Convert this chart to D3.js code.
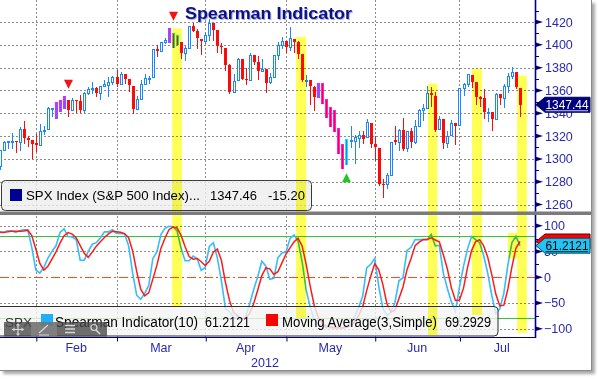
<!DOCTYPE html>
<html><head><meta charset="utf-8">
<script src="https://cdn.jsdelivr.net/npm/d3@7"></script>
<style>
html,body{margin:0;padding:0;background:#fff;}
svg{display:block;}
text{font-family:"Liberation Sans",Arial,sans-serif;}
</style></head><body>
<svg id="chart" width="599" height="380"></svg>
<script>
// ---------------- DATA ----------------
const dates = [
"2012-01-18","2012-01-19","2012-01-20","2012-01-23","2012-01-24","2012-01-25","2012-01-26","2012-01-27","2012-01-30","2012-01-31",
"2012-02-01","2012-02-02","2012-02-03","2012-02-06","2012-02-07","2012-02-08","2012-02-09","2012-02-10","2012-02-13","2012-02-14",
"2012-02-15","2012-02-16","2012-02-17","2012-02-21","2012-02-22","2012-02-23","2012-02-24","2012-02-27","2012-02-28","2012-02-29",
"2012-03-01","2012-03-02","2012-03-05","2012-03-06","2012-03-07","2012-03-08","2012-03-09","2012-03-12","2012-03-13","2012-03-14",
"2012-03-15","2012-03-16","2012-03-19","2012-03-20","2012-03-21","2012-03-22","2012-03-23","2012-03-26","2012-03-27","2012-03-28",
"2012-03-29","2012-03-30","2012-04-02","2012-04-03","2012-04-04","2012-04-05","2012-04-09","2012-04-10","2012-04-11","2012-04-12",
"2012-04-13","2012-04-16","2012-04-17","2012-04-18","2012-04-19","2012-04-20","2012-04-23","2012-04-24","2012-04-25","2012-04-26",
"2012-04-27","2012-04-30","2012-05-01","2012-05-02","2012-05-03","2012-05-04","2012-05-07","2012-05-08","2012-05-09","2012-05-10",
"2012-05-11","2012-05-14","2012-05-15","2012-05-16","2012-05-17","2012-05-18","2012-05-21","2012-05-22","2012-05-23","2012-05-24",
"2012-05-25","2012-05-29","2012-05-30","2012-05-31","2012-06-01","2012-06-04","2012-06-05","2012-06-06","2012-06-07","2012-06-08",
"2012-06-11","2012-06-12","2012-06-13","2012-06-14","2012-06-15","2012-06-18","2012-06-19","2012-06-20","2012-06-21","2012-06-22",
"2012-06-25","2012-06-26","2012-06-27","2012-06-28","2012-06-29","2012-07-02","2012-07-03","2012-07-05","2012-07-06","2012-07-09",
"2012-07-10","2012-07-11","2012-07-12","2012-07-13","2012-07-16","2012-07-17","2012-07-18","2012-07-19","2012-07-20","2012-07-23"];

const open = [
1293.65,1308.07,1314.49,1315.29,1315.96,1314.40,1326.28,1318.25,1316.16,1313.53,
1312.45,1324.24,1326.21,1344.32,1344.33,1347.04,1349.97,1351.21,1343.06,1351.30,
1350.52,1342.61,1358.06,1361.22,1362.11,1357.53,1363.46,1365.20,1367.56,1372.20,
1365.90,1374.09,1369.59,1363.63,1343.39,1352.65,1365.97,1370.78,1371.92,1395.95,
1394.17,1402.55,1404.17,1409.59,1405.52,1402.89,1392.78,1397.11,1416.55,1412.52,
1405.39,1403.31,1408.47,1418.98,1413.09,1398.79,1397.45,1382.18,1358.98,1368.77,
1387.61,1370.27,1369.57,1390.78,1385.08,1376.96,1378.53,1366.97,1372.11,1390.64,
1400.19,1403.26,1397.86,1405.50,1402.32,1391.51,1368.79,1369.16,1363.20,1354.58,
1358.11,1351.93,1338.36,1330.78,1324.18,1305.05,1295.73,1316.09,1316.02,1318.72,
1320.64,1318.90,1331.25,1313.09,1309.87,1278.29,1277.82,1285.61,1316.15,1314.99,
1325.72,1309.40,1324.02,1314.88,1329.19,1342.42,1344.83,1357.98,1355.43,1325.92,
1334.90,1314.09,1320.71,1331.52,1330.12,1362.33,1365.75,1373.72,1367.09,1354.66,
1352.96,1341.40,1341.29,1334.81,1356.50,1353.68,1363.58,1373.01,1376.51,1362.34];

const high = [
1308.11,1315.49,1315.38,1322.28,1315.96,1328.30,1333.47,1320.06,1316.16,1321.41,
1330.52,1329.19,1345.34,1344.36,1349.24,1351.00,1354.32,1351.21,1353.35,1351.30,
1355.87,1359.02,1363.40,1367.76,1362.70,1364.24,1368.92,1371.94,1373.09,1378.04,
1376.17,1374.53,1369.59,1363.63,1354.85,1368.72,1374.76,1373.04,1396.13,1399.42,
1402.63,1405.88,1414.00,1409.59,1407.75,1402.89,1399.18,1416.58,1419.15,1413.65,
1405.39,1410.89,1422.38,1419.00,1413.09,1401.60,1397.45,1383.01,1374.71,1388.13,
1387.61,1379.66,1392.76,1390.78,1390.46,1387.40,1378.53,1375.57,1391.37,1402.09,
1406.64,1403.26,1415.32,1405.50,1403.07,1391.51,1373.91,1369.16,1363.73,1365.88,
1365.66,1351.93,1344.94,1341.78,1326.36,1312.24,1316.39,1328.49,1320.71,1324.14,
1324.20,1334.93,1331.25,1319.74,1309.87,1282.55,1287.62,1315.13,1329.05,1325.81,
1335.52,1324.31,1327.28,1333.68,1343.32,1348.22,1363.46,1363.08,1358.27,1337.82,
1334.90,1324.24,1334.40,1331.52,1362.17,1366.35,1374.81,1373.85,1367.09,1354.87,
1361.54,1345.00,1341.29,1357.70,1357.26,1365.36,1375.26,1380.39,1376.51,1362.34];

const low = [
1290.99,1308.07,1309.17,1309.89,1306.06,1307.65,1313.60,1311.72,1300.49,1306.69,
1312.45,1321.57,1326.21,1337.52,1335.92,1341.95,1344.63,1337.35,1343.06,1340.83,
1340.80,1341.22,1357.24,1358.11,1355.53,1352.28,1363.46,1354.92,1365.97,1363.81,
1365.90,1366.42,1359.13,1340.03,1343.39,1352.65,1365.97,1366.69,1371.92,1389.97,
1394.17,1401.47,1402.43,1397.68,1400.64,1388.73,1386.87,1397.11,1411.95,1397.20,
1391.56,1401.42,1404.46,1404.62,1394.09,1392.92,1378.24,1357.38,1358.98,1368.77,
1369.85,1365.38,1369.57,1383.29,1370.30,1376.96,1358.79,1366.82,1372.11,1387.28,
1397.31,1394.00,1395.73,1393.92,1388.71,1367.96,1363.94,1347.75,1343.13,1354.58,
1348.89,1336.61,1328.41,1324.79,1304.86,1291.98,1295.73,1310.04,1296.53,1310.50,
1314.23,1318.90,1310.76,1298.90,1277.25,1266.74,1274.16,1285.61,1312.68,1307.77,
1307.73,1306.62,1310.51,1314.14,1329.19,1334.46,1344.83,1346.13,1324.41,1325.92,
1309.27,1310.30,1320.71,1313.29,1330.12,1355.70,1363.53,1363.02,1348.03,1346.65,
1336.27,1333.25,1325.41,1334.81,1348.51,1345.07,1358.96,1371.21,1362.19,1337.56];

const close = [
1308.04,1314.50,1315.38,1316.00,1314.65,1326.06,1318.43,1316.33,1313.01,1312.41,
1324.09,1325.54,1344.90,1344.33,1347.05,1349.96,1351.95,1342.64,1351.77,1350.50,
1343.23,1358.04,1361.23,1362.21,1357.66,1363.46,1365.74,1367.59,1372.18,1365.68,
1374.09,1369.63,1364.33,1343.36,1352.63,1365.91,1370.87,1371.09,1395.95,1394.28,
1402.60,1404.17,1409.75,1405.52,1402.89,1392.78,1397.11,1416.51,1412.52,1405.54,
1403.28,1408.47,1419.04,1413.38,1398.96,1398.08,1382.20,1358.59,1368.71,1387.57,
1370.26,1369.57,1390.78,1385.14,1376.92,1378.53,1366.94,1371.97,1390.69,1399.98,
1403.36,1397.91,1405.82,1402.31,1391.57,1369.10,1369.58,1363.72,1354.58,1357.99,
1353.39,1338.35,1330.66,1324.80,1304.86,1295.22,1315.99,1316.63,1318.86,1320.68,
1317.82,1332.42,1313.32,1310.33,1278.04,1278.18,1285.50,1315.13,1314.99,1325.66,
1308.93,1324.18,1314.88,1329.10,1342.84,1344.78,1357.98,1355.69,1325.51,1335.02,
1313.72,1319.99,1331.85,1329.04,1362.16,1365.51,1374.02,1367.58,1354.68,1352.46,
1341.47,1341.45,1334.76,1356.78,1353.64,1363.67,1372.78,1376.51,1362.66,1347.46];

const spearman = [
87,87,90,90,87,90,92,92,58,14,
8,19,37,50,61,87,94,79,78,73,
33,33,50,64,67,76,88,88,92,85,
85,84,61,8,-35,-43,-31,-16,36,49,
83,95,99,98,90,56,32,32,41,36,
13,19,60,67,37,-7,-61,-67,-77,-81,
-82,-77,-52,-24,1,31,22,-4,-2,38,
47,49,75,82,70,30,-24,-58,-83,-92,
-94,-98,-98,-98,-98,-99,-95,-88,-77,-59,
-37,18,25,36,-18,-60,-75,-68,-49,-7,
-1,52,58,73,73,73,73,83,61,62,
8,-22,-48,-66,-19,21,55,79,73,67,
42,8,-35,-71,-61,-31,24,67.27,79.39,61.2121];

const movingAvg = [
87.7,87,88,89,89,89,89.7,91.3,80.7,54.7,
26.7,13.7,21.3,35.3,49.3,66,80.7,86.7,83.7,76.7,
61.3,46.3,38.7,49,60.3,69,77,84,89.3,88.3,
87.3,84.7,76.7,51,11.3,-23.3,-36.3,-30,-3.7,23,
56,75.7,92.3,97.3,95.7,81.3,59.3,40,35,36.3,
30,22.7,30.7,48.7,54.7,32.3,-10.3,-45,-68.3,-75,
-80,-80,-70.3,-51,-25,2.7,18,16.3,5.3,10.7,
27.7,44.7,57,68.7,75.7,60.7,25.3,-17.3,-55,-77.7,
-89.7,-94.7,-96.7,-98,-98,-98.3,-97.3,-94,-86.7,-74.7,
-57.7,-26,2,26.3,14.3,-14,-51,-67.7,-64,-41.3,
-19,14.7,36.3,61,68,73,73,76.3,72.3,68.7,
43.7,16,-20.7,-45.3,-44.3,-21.3,19,51.7,69,73,
60.7,39,5,-32.7,-55.7,-54.3,-22.7,20,56.7,69.2929];

const monthEndIdx = [9, 29, 51, 71, 93, 114, 135];   // last trading day of Jan..Jul
const monthLabels = ["Feb","Mar","Apr","May","Jun","Jul"];
const yearLabel = "2012";
const priceTicks = [1260,1280,1300,1320,1340,1360,1380,1400,1420];
const priceMinor = [1270,1290,1310,1330,1350,1370,1390,1410,1430];
const indTicks = [-100,-50,0,50,100];
const indMinor = [-75,-25,25,75];
const indGrid = [-100,-50,50,100];
const indLevels = [80,-80];

const magentaBars = [14,15,16,42,79,80,81,82,83,84,85];
const cyanBars = [43,44,86];
const sellSignals = [{i:17, price:1361.5},{i:43, price:1421}];
const buySignals = [{i:86, price:1287.5}];

const bands = [
 {from:42.8, to:45.2, priceTop:1414.5, indBottom:-56},
 {from:73.5, to:76.0, priceTop:1407, indBottom:-79},
 {from:106.2,to:108.5, priceTop:1366, indBottom:-112},
 {from:117.1,to:119.6, priceTop:1379, indBottom:-73},
 {from:128.3,to:130.7, priceTop:1373, indBottom:-108}];
const miniBands = [{from:126, to:129, indTop:86, indBottom:37}];

const tagPrice = 1347.44, legendPrice = 1347.46, netChange = -15.20;
const legendName = "SPX Index (S&P 500 Index)...";
const title = "Spearman Indicator";

// ---------------- SCALES ----------------
const x = d3.scaleLinear().domain([0,129]).range([-0.5,520]);
const yP = d3.scaleLinear().domain([1260,1420]).range([204.5,22]);
const yI = d3.scaleLinear().domain([-100,100]).range([328.7,225.7]);
const px = i => Math.round(x(i));
const AX = 535; // axis x
const NAVY = "#00007a", LBL = "#2a2aad", GRID = "#8c8c8c";

const svg = d3.select("#chart");
const defs = svg.append("defs");
const fl = defs.append("filter").attr("id","sh").attr("x","-10%").attr("y","-10%").attr("width","130%").attr("height","130%");
fl.append("feGaussianBlur").attr("stdDeviation",1.8);
defs.append("clipPath").attr("id","cp").append("rect").attr("x",0).attr("y",0).attr("width",AX).attr("height",211);
defs.append("clipPath").attr("id","ci").append("rect").attr("x",0).attr("y",215).attr("width",AX).attr("height",122);

// frame
svg.append("rect").attr("x",3).attr("y",3).attr("width",592).attr("height",371).attr("fill","#a8a8a8").attr("filter","url(#sh)");
svg.append("rect").attr("x",-1).attr("y",-1).attr("width",592.5).attr("height",371.5).attr("fill","#fff").attr("stroke","#8a8a8a");

// ---------------- GRID ----------------
const g = svg.append("g");
g.selectAll("line.hp").data(priceTicks).join("line")
 .attr("x1",0).attr("x2",AX).attr("y1",d=>Math.round(yP(d))+0.5).attr("y2",d=>Math.round(yP(d))+0.5)
 .attr("stroke",GRID).attr("stroke-dasharray","2,2");
g.selectAll("line.hi").data(indGrid).join("line")
 .attr("x1",0).attr("x2",AX).attr("y1",d=>Math.round(yI(d))+0.5).attr("y2",d=>Math.round(yI(d))+0.5)
 .attr("stroke",GRID).attr("stroke-dasharray","2,2");
g.selectAll("line.vm").data(monthEndIdx.slice(0,6)).join("line")
 .attr("x1",d=>px(d)+0.5).attr("x2",d=>px(d)+0.5).attr("y1",0).attr("y2",337)
 .attr("stroke",GRID).attr("stroke-dasharray","2,2");
g.selectAll("line.lv").data(indLevels).join("line")
 .attr("x1",0).attr("x2",AX).attr("y1",d=>Math.round(yI(d))+0.5).attr("y2",d=>Math.round(yI(d))+0.5)
 .attr("stroke","#35c435").attr("stroke-width",1.2);
g.append("line").attr("x1",0).attr("x2",AX).attr("y1",Math.round(yI(0))+0.5).attr("y2",Math.round(yI(0))+0.5)
 .attr("stroke","#ff4a1a").attr("stroke-dasharray","9,3,2,3").attr("stroke-width",1.2);

// ---------------- CANDLES ----------------
const idx = d3.range(close.length);
const BLUE = "#1a86ff", RED = "#ff0a0a";
const gc = svg.append("g").attr("clip-path","url(#cp)");
const hl = magentaBars.map(i=>({i,c:"#ff19ff"})).concat(cyanBars.map(i=>({i,c:"#19e6ff"})));
const hlSet = new Set(hl.map(d=>d.i));
gc.selectAll("rect.hl").data(hl).join("rect")
 .attr("x",d=>px(d.i)-1).attr("width",3)
 .attr("y",d=>Math.round(yP(high[d.i]))-1).attr("height",d=>Math.round(yP(low[d.i]))-Math.round(yP(high[d.i]))+2)
 .attr("fill",d=>d.c);
gc.selectAll("line.wick").data(idx).join("line")
 .attr("x1",i=>px(i)+0.5).attr("x2",i=>px(i)+0.5)
 .attr("y1",i=>Math.round(yP(high[i]))).attr("y2",i=>Math.round(yP(low[i]))+1)
 .attr("stroke",i=>close[i]>=open[i]?BLUE:RED);
const normal = idx.filter(i=>!hlSet.has(i));
gc.selectAll("rect.up").data(normal.filter(i=>close[i]>=open[i])).join("rect")
 .attr("x",i=>px(i)-0.5).attr("width",2)
 .attr("y",i=>Math.round(yP(close[i]))+0.5)
 .attr("height",i=>Math.max(1,Math.round(yP(open[i]))-Math.round(yP(close[i]))))
 .attr("fill","#fff").attr("stroke",BLUE);
gc.selectAll("rect.dn").data(idx.filter(i=>close[i]<open[i])).join("rect")
 .attr("x",i=>px(i)-(hlSet.has(i)?0:1)).attr("width",i=>hlSet.has(i)?1:3)
 .attr("y",i=>Math.round(yP(open[i])))
 .attr("height",i=>Math.max(1,Math.round(yP(close[i]))-Math.round(yP(open[i]))))
 .attr("fill",RED);

// signal triangles
const tri = (cx,ay,dir)=>`M${cx-4.5},${ay-9*dir} L${cx+4.5},${ay-9*dir} L${cx},${ay} Z`;
gc.selectAll("path.sell").data(sellSignals).join("path")
 .attr("d",d=>tri(px(d.i)+0.5,yP(d.price),1)).attr("fill","#f01414");
gc.selectAll("path.buy").data(buySignals).join("path")
 .attr("d",d=>tri(px(d.i)+0.5,yP(d.price),-1)).attr("fill","#1ec81e");

// ---------------- INDICATOR LINES ----------------
const gi = svg.append("g").attr("clip-path","url(#ci)");
const line = arr => d3.line().x(i=>x(i)).y(i=>yI(arr[i]))(idx);
gi.append("path").attr("d",line(spearman)).attr("fill","none").attr("stroke","#38bdf8").attr("stroke-width",1.6);
gi.append("path").attr("d",line(movingAvg)).attr("fill","none").attr("stroke","#ff1a1a").attr("stroke-width",1.5);

// ---------------- LEGENDS ----------------
const lg = svg.append("g");
lg.append("rect").attr("x",1.5).attr("y",180.5).attr("width",310).attr("height",30).attr("rx",4)
 .attr("fill","rgba(238,238,238,0.8)").attr("stroke","#3a3a3a");
lg.append("rect").attr("x",10).attr("y",189).attr("width",12).attr("height",12).attr("fill","#000090");
lg.append("text").attr("x",26).attr("y",200).attr("font-size",13).attr("textLength",174).attr("lengthAdjust","spacingAndGlyphs").text(legendName);
lg.append("text").attr("x",210).attr("y",200).attr("font-size",13).text(legendPrice.toFixed(2));
lg.append("text").attr("x",268).attr("y",200).attr("font-size",13).text(netChange.toFixed(2));

lg.append("rect").attr("x",-4).attr("y",306.5).attr("width",502).attr("height",29.5).attr("rx",4)
 .attr("fill","rgba(244,244,244,0.8)").attr("stroke","#2e2e2e");
lg.append("text").attr("x",5).attr("y",327).attr("font-size",13.5).attr("fill","#333").text("SPX");
lg.append("rect").attr("x",41).attr("y",314).attr("width",12).attr("height",12).attr("fill","#1eb0ff");
lg.append("text").attr("x",55).attr("y",327).attr("font-size",14).attr("textLength",143).attr("lengthAdjust","spacingAndGlyphs").text("Spearman Indicator(10)");
lg.append("text").attr("x",205).attr("y",327).attr("font-size",14).attr("textLength",45).attr("lengthAdjust","spacingAndGlyphs").text(spearman[spearman.length-1].toFixed(4));
lg.append("rect").attr("x",266).attr("y",314).attr("width",12).attr("height",12).attr("fill","#ff0000");
lg.append("text").attr("x",282).attr("y",327).attr("font-size",14).attr("textLength",155).attr("lengthAdjust","spacingAndGlyphs").text("Moving Average(3,Simple)");
lg.append("text").attr("x",445).attr("y",327).attr("font-size",14).attr("textLength",46).attr("lengthAdjust","spacingAndGlyphs").text(movingAvg[movingAvg.length-1].toFixed(4));

// toolbar
const tb = svg.append("g");
tb.append("rect").attr("x",4).attr("y",322).attr("width",103).attr("height",14.5).attr("fill","rgba(70,70,70,0.78)");
tb.append("rect").attr("x",31).attr("y",322).attr("width",26).attr("height",14.5).attr("fill","rgba(140,140,140,0.6)");
const ic = "#d8d8d8";
tb.append("path").attr("d","M18,324 V335 M12.5,329.5 H23.5").attr("stroke",ic).attr("stroke-width",1.2);
tb.append("path").attr("d","M18,323 l-2,2.5 h4z M18,336 l-2,-2.5 h4z M12,329.5 l2.5,-2 v4z M24,329.5 l-2.5,-2 v4z").attr("fill",ic);
tb.append("path").attr("d","M39,333 L48,325 M39,335 H49").attr("stroke",ic).attr("stroke-width",1.2).attr("fill","none");
tb.append("path").attr("d","M65,325.5 H75 M65,329 H75 M65,332.5 H75").attr("stroke",ic).attr("stroke-width",1.3);
tb.append("circle").attr("cx",94).attr("cy",327.5).attr("r",3).attr("fill","none").attr("stroke",ic).attr("stroke-width",1.2);
tb.append("path").attr("d","M96,330 L100,334").attr("stroke",ic).attr("stroke-width",1.6);

// ---------------- BANDS ----------------
const gb = svg.append("g").style("mix-blend-mode","multiply");
gb.selectAll("rect.band").data(bands).join("rect")
 .attr("x",d=>x(d.from)).attr("width",d=>x(d.to)-x(d.from))
 .attr("y",d=>yP(d.priceTop)).attr("height",d=>yI(d.indBottom)-yP(d.priceTop))
 .attr("fill","#ffff55");
gb.selectAll("rect.mini").data(miniBands).join("rect")
 .attr("x",d=>x(d.from)).attr("width",d=>x(d.to)-x(d.from))
 .attr("y",d=>yI(d.indTop)).attr("height",d=>yI(d.indBottom)-yI(d.indTop))
 .attr("fill","#ffff55");

// ---------------- SEPARATOR & AXES ----------------
svg.append("rect").attr("x",0).attr("y",211.5).attr("width",591).attr("height",3.5).attr("fill","#7b7b7b");
svg.append("line").attr("x1",AX+0.5).attr("x2",AX+0.5).attr("y1",0).attr("y2",211.5).attr("stroke",NAVY).attr("stroke-width",1.6);
svg.append("line").attr("x1",AX+0.5).attr("x2",AX+0.5).attr("y1",215).attr("y2",338).attr("stroke",NAVY).attr("stroke-width",1.6);
svg.append("line").attr("x1",0).attr("x2",AX+1).attr("y1",337.5).attr("y2",337.5).attr("stroke",NAVY).attr("stroke-width",1.2);

const axP = svg.append("g").attr("transform",`translate(${AX},0)`)
 .call(d3.axisRight(yP).tickValues(priceTicks).tickSize(0).tickPadding(10).tickFormat(d3.format("d")));
const axI = svg.append("g").attr("transform",`translate(${AX},0)`)
 .call(d3.axisRight(yI).tickValues(indTicks).tickSize(0).tickPadding(9).tickFormat(d3.format("d")));
[axP,axI].forEach(a=>{a.select(".domain").remove(); a.selectAll("text").attr("fill",LBL).attr("font-size",12.5).attr("font-family","Liberation Sans, Arial, sans-serif");});
const mk = y=>`M${AX},${y-2.5} L${AX+8},${y} L${AX},${y+2.5} Z`;
svg.selectAll("path.mkp").data(priceTicks).join("path").attr("d",d=>mk(yP(d))).attr("fill",NAVY);
svg.selectAll("path.mki").data(indTicks).join("path").attr("d",d=>mk(yI(d))).attr("fill",NAVY);
svg.selectAll("line.mnp").data(priceMinor).join("line").attr("x1",AX).attr("x2",AX+4)
 .attr("y1",d=>Math.round(yP(d))+0.5).attr("y2",d=>Math.round(yP(d))+0.5).attr("stroke",NAVY);
svg.selectAll("line.mni").data(indMinor).join("line").attr("x1",AX).attr("x2",AX+4)
 .attr("y1",d=>Math.round(yI(d))+0.5).attr("y2",d=>Math.round(yI(d))+0.5).attr("stroke",NAVY);

// bottom axis (month boundaries) and labels
const axB = svg.append("g").attr("transform","translate(0,337.5)")
 .call(d3.axisBottom(x).tickValues(monthEndIdx.slice(0,6)).tickSize(4).tickFormat(""));
axB.select(".domain").remove(); axB.selectAll("line").attr("stroke",NAVY).attr("transform","translate(0.5,0)");
svg.selectAll("text.month").data(monthLabels).join("text")
 .attr("x",(d,k)=>(x(monthEndIdx[k])+x(monthEndIdx[k+1]))/2).attr("y",352)
 .attr("text-anchor","middle").attr("font-size",12.5).attr("fill",LBL).text(d=>d);
svg.append("text").attr("x",265).attr("y",367).attr("text-anchor","middle").attr("font-size",12.5).attr("fill",LBL).text(yearLabel);

// ---------------- TAGS ----------------
function tag(yc, fill, stroke, txtFill, label){
  const h=7.5;
  svg.append("path").attr("d",`M${AX+1},${yc} L${AX+10},${yc-h} L590,${yc-h} L590,${yc+h} L${AX+10},${yc+h} Z`)
   .attr("fill",fill).attr("stroke",stroke);
  if(label){
    svg.append("text").attr("x",AX+10.5).attr("y",yc+4.5).attr("font-size",12.5)
     .attr("textLength",43).attr("lengthAdjust","spacingAndGlyphs").attr("fill",txtFill).text(label);
    svg.append("line").attr("x1",AX+10.5).attr("x2",588).attr("y1",yc+6).attr("y2",yc+6).attr("stroke",txtFill).attr("stroke-width",0.8);
  }
}
tag(yP(tagPrice), "#000080", "#000060", "#fff", tagPrice.toFixed(2));
tag(yI(movingAvg[movingAvg.length-1]), "#ff0000", "#600", "#000", null);
tag(yI(spearman[spearman.length-1]), "#22c4f4", "#00506a", "#000", spearman[spearman.length-1].toFixed(4));

// ---------------- TITLE ----------------
svg.append("text").attr("x",269.5).attr("y",20).attr("text-anchor","middle")
 .attr("font-family","DejaVu Sans, sans-serif").attr("font-weight","bold").attr("font-size",16)
 .attr("textLength",167).attr("lengthAdjust","spacingAndGlyphs").attr("fill","#9fb0ff").text(title);
svg.append("text").attr("x",268.5).attr("y",19).attr("text-anchor","middle")
 .attr("font-family","DejaVu Sans, sans-serif").attr("font-weight","bold").attr("font-size",16)
 .attr("textLength",167).attr("lengthAdjust","spacingAndGlyphs").attr("fill","#10107a").text(title);
</script></body></html>
